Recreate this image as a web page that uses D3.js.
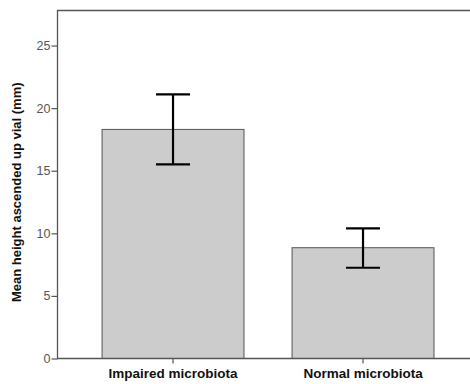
<!DOCTYPE html>
<html>
<head>
<meta charset="utf-8">
<script src="https://cdn.jsdelivr.net/npm/d3@7"></script>
<style>
  body { margin: 0; background: #fff; }
  text { font-family: "Liberation Sans", Arial, sans-serif; }
</style>
</head>
<body>
<svg id="myChart" width="470" height="384"></svg>
<script>
// data
let groups = ["Impaired microbiota", "Normal microbiota"];
let means = [18.3, 8.85];
let errLow = [15.5, 7.25];
let errHigh = [21.1, 10.4];
let yTicks = [0, 5, 10, 15, 20, 25];

let svg = d3.select("#myChart"),
    width = +svg.attr("width"),
    height = +svg.attr("height");

let plotLeft = 57, plotTop = 10, plotRight = 470, plotBottom = 358.5;

let x = d3.scaleBand()
    .domain(groups)
    .range([plotLeft, 460])
    .paddingInner(0.253)
    .paddingOuter(0.187)
    .align(0.634);

let y = d3.scaleLinear()
    .domain([0, 27.84])
    .range([plotBottom, plotTop]);

// frame: top and left lines (no right border)
svg.append("line")
    .attr("x1", plotLeft).attr("x2", plotRight)
    .attr("y1", plotTop + 0.5).attr("y2", plotTop + 0.5)
    .attr("stroke", "#555").attr("stroke-width", 1.3);

svg.append("line")
    .attr("x1", plotLeft + 0.5).attr("x2", plotLeft + 0.5)
    .attr("y1", plotTop).attr("y2", plotBottom)
    .attr("stroke", "#555").attr("stroke-width", 1.3);

// bars
svg.selectAll(".bar")
    .data(groups)
    .enter().append("rect")
    .attr("class", "bar")
    .attr("x", function(d) { return x(d); })
    .attr("y", function(d, i) { return y(means[i]); })
    .attr("width", x.bandwidth())
    .attr("height", function(d, i) { return y(0) - y(means[i]); })
    .attr("fill", "#cccccc")
    .attr("stroke", "#555")
    .attr("stroke-width", 1);

// error bars
let capHalf = 17;
let err = svg.selectAll(".err")
    .data(groups)
    .enter().append("g")
    .attr("class", "err")
    .attr("stroke", "#000")
    .attr("stroke-width", 2.2);

err.append("line")
    .attr("x1", function(d) { return x(d) + x.bandwidth() / 2; })
    .attr("x2", function(d) { return x(d) + x.bandwidth() / 2; })
    .attr("y1", function(d, i) { return y(errHigh[i]); })
    .attr("y2", function(d, i) { return y(errLow[i]); });

err.append("line")
    .attr("x1", function(d) { return x(d) + x.bandwidth() / 2 - capHalf; })
    .attr("x2", function(d) { return x(d) + x.bandwidth() / 2 + capHalf; })
    .attr("y1", function(d, i) { return y(errHigh[i]); })
    .attr("y2", function(d, i) { return y(errHigh[i]); });

err.append("line")
    .attr("x1", function(d) { return x(d) + x.bandwidth() / 2 - capHalf; })
    .attr("x2", function(d) { return x(d) + x.bandwidth() / 2 + capHalf; })
    .attr("y1", function(d, i) { return y(errLow[i]); })
    .attr("y2", function(d, i) { return y(errLow[i]); });

// bottom axis line
svg.append("line")
    .attr("x1", plotLeft).attr("x2", plotRight)
    .attr("y1", plotBottom).attr("y2", plotBottom)
    .attr("stroke", "#555").attr("stroke-width", 1.3);

// y axis
let yAxis = svg.append("g")
    .attr("transform", "translate(" + (plotLeft + 0.5) + ",0)")
    .call(d3.axisLeft(y).tickValues(yTicks).tickSize(6).tickPadding(1));

yAxis.select(".domain").remove();
yAxis.selectAll("line").attr("stroke", "#555").attr("stroke-width", 1.2);
yAxis.selectAll("text")
    .attr("fill", "#555")
    .style("font-size", "12.5px");

// x axis
let xAxis = svg.append("g")
    .attr("transform", "translate(0," + plotBottom + ")")
    .call(d3.axisBottom(x).tickSize(5).tickPadding(5));

xAxis.select(".domain").remove();
xAxis.selectAll("line").attr("stroke", "#555").attr("stroke-width", 1.2);
xAxis.selectAll("text")
    .attr("fill", "#111")
    .style("font-size", "13.5px")
    .style("font-weight", "bold");

// y title
svg.append("text")
    .attr("transform", "translate(21," + ((plotTop + plotBottom) / 2 + 8) + ") rotate(-90)")
    .attr("text-anchor", "middle")
    .attr("fill", "#111")
    .style("font-size", "13px")
    .style("font-weight", "bold")
    .text("Mean height ascended up vial (mm)");
</script>
</body>
</html>
